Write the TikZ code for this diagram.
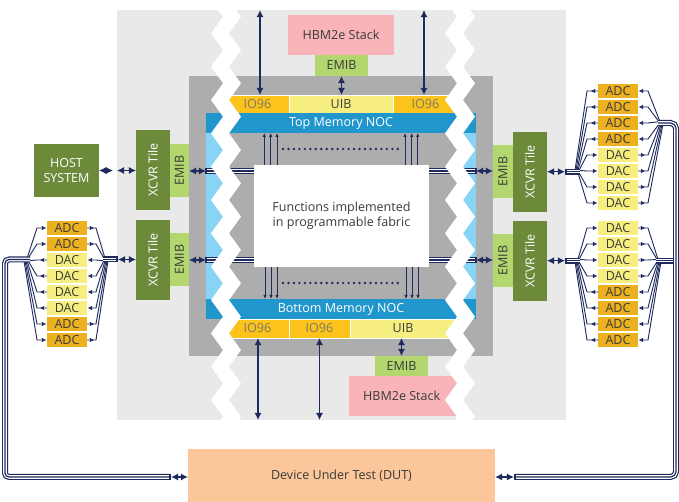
\documentclass[tikz,border=0pt]{standalone}
\usepackage{fontspec}
\setmainfont{Open Sans}
\usetikzlibrary{arrows.meta,calc,decorations.markings}

\definecolor{cBg}{HTML}{E9E9E9}
\definecolor{cChip}{HTML}{ADADAD}
\definecolor{cNoc}{HTML}{2196CD}
\definecolor{cSky}{HTML}{88D4F5}
\definecolor{cIo}{HTML}{FCC41A}
\definecolor{cUib}{HTML}{F6EF80}
\definecolor{cEmib}{HTML}{B3D66F}
\definecolor{cTile}{HTML}{6D8A3B}
\definecolor{cHbm}{HTML}{F8B4B9}
\definecolor{cDut}{HTML}{FBC699}
\definecolor{cAdc}{HTML}{ECB11F}
\definecolor{cDac}{HTML}{F6EF80}
\definecolor{cNavy}{HTML}{1F2B5E}
\definecolor{cInk}{HTML}{3A3A3A}
\definecolor{cIoInk}{HTML}{7E7965}

% white zig-zag break running down the die
\newcommand\zigband[1]{%
  \draw[white, line width=10.95pt, line join=miter, miter limit=10]
    (#1,0) \foreach \k in {0,...,12} { -- ({#1+12},{\k*33.333+16.667}) -- (#1,{(\k+1)*33.333}) };}

\begin{document}
\begin{tikzpicture}[x=0.75pt, y=-0.75pt,
  font=\fontsize{9.4pt}{11pt}\selectfont,
  box/.style={inner sep=0pt, outer sep=0pt, text=cInk},
  wh/.style 2 args={minimum width=#1*0.75pt, minimum height=#2*0.75pt},
  iobox/.style={box, fill=cIo, draw=white, line width=0.4pt, text=cIoInk},
  uibbox/.style={box, fill=cUib, draw=white, line width=0.4pt},
  nocbox/.style={box, fill=cNoc, text=white, wh={270}{20}},
  emibbox/.style={box, fill=cEmib},
  tilebox/.style={box, fill=cTile, text=white},
  ADC/.style={box, fill=cAdc, wh={40}{13.7}},
  DAC/.style={box, fill=cDac, wh={40}{13.7}},
  dbl/.style={draw=cNavy, line width=0.9pt, {Latex[length=5.4pt,width=5.4pt]}-{Latex[length=5.4pt,width=5.4pt]}},
  thinarr/.style={draw=cNavy, line width=0.6pt, -{Latex[length=3pt,width=2.6pt]}},
  fanline/.style={draw=cNavy, color=cNavy, line width=0.7pt},
  fanin/.style={fanline, -{Latex[length=3.4pt,width=3.4pt]}, shorten >=0.4pt},
  fanout/.style={fanline, postaction={decorate}, decoration={markings,
      mark=at position -5.5pt with {\arrowreversed{Latex[length=3.4pt,width=3.4pt]}}}},
  ADC-dut/.style={fanin}, DAC-dut/.style={fanout},
  ADC-xcvr/.style={fanout}, DAC-xcvr/.style={fanin},
  cable/.style={draw=cNavy, line width=4.5pt,
      postaction={draw=white, line width=2.7pt},
      postaction={draw=cNavy, line width=0.9pt}},
  bar/.style={draw=cNavy, line width=0.8pt},
  dotrow/.style={draw=cNavy, line width=2pt, line cap=round, dash pattern=on 0pt off 4.1pt}
]
\useasboundingbox (0,0) rectangle (679,502);

% package outline and die
\fill[cBg] (117,10) rectangle (566,420);
\fill[cChip] (189,76) rectangle (493,356);

% top HBM stack
\node[box, fill=cHbm, wh={106}{40}] (hbmT) at (341,35) {HBM2e Stack};
\node[emibbox, wh={53}{21}] (emibT) at (341.5,65.5) {EMIB};

% top I/O row and NOC
\node[iobox, wh={63}{18}] (io96TL) at (257.5,104) {IO96};
\node[uibbox, wh={104}{18}] (uibT) at (341,104) {UIB};
\node[iobox, wh={65}{18}] (io96TR) at (425.5,104) {IO96};
\node[nocbox] (nocT) at (341,123) {Top Memory NOC};

% side NOC strips
\fill[cSky] (206,133) rectangle (224,299);
\fill[cSky] (460,133) rectangle (476,299);

% bottom NOC and I/O row
\node[nocbox] (nocB) at (341,309) {Bottom Memory NOC};
\node[iobox, wh={63}{19}] (io96BL) at (257.5,328.5) {IO96};
\node[iobox, wh={61}{19}] (io96BR) at (319.5,328.5) {IO96};
\node[uibbox, wh={106}{19}] (uibB) at (403,328.5) {UIB};

% bottom HBM stack
\node[emibbox, wh={53}{21}] (emibB) at (401.5,366.5) {EMIB};
\node[box, fill=cHbm, wh={111}{40}, label={[text=cInk, xshift=-2.1pt]center:HBM2e Stack}] (hbmB) at (404.5,396) {};

% fabric
\node[box, fill=white, wh={175}{102}, align=center, text=cInk] (fab) at (341.5,216)
  {Functions implemented\\in programmable fabric};

% fabric to NOC connections
\foreach \x in {264.3,270.7,277,405,411.7,417.7}
  \draw[thinarr] (fab.north -| \x,0) -- (nocT.south -| \x,0);
\foreach \x in {265,271,277,406,412,418}
  \draw[thinarr] (fab.south -| \x,0) -- (nocB.north -| \x,0);
\coordinate (dT1) at (283,149); \coordinate (dT2) at (400,149);
\coordinate (dB1) at (283,283); \coordinate (dB2) at (400,283);
\draw[dotrow] (dT1) -- (dT2);
\draw[dotrow] (dB1) -- (dB2);

% HBM / external I/O arrows
\coordinate (tA) at (260,10);
\coordinate (tB) at (424,10);
\draw[dbl] (tA) -- (tA |- io96TL.north);
\draw[dbl] (tB) -- (tB |- io96TR.north);
\draw[dbl] (emibT.south) -- (emibT.south |- uibT.north);
\coordinate (bA) at (258,420);
\coordinate (bB) at (319.5,420);
\draw[dbl] (io96BL.south -| bA) -- (bA);
\draw[dbl] (io96BR.south -| bB) -- (bB);
\draw[dbl] (emibB.north |- uibB.south) -- (emibB.north);

% side tiles
\node[tilebox, rotate=90, wh={80}{34}] (xcvrLT) at (153,170) {XCVR Tile};
\node[emibbox, rotate=90, wh={53}{19}] (emibLT) at (179.5,170.5) {EMIB};
\node[tilebox, rotate=90, wh={80}{34}] (xcvrLB) at (153,260) {XCVR Tile};
\node[emibbox, rotate=90, wh={53}{19}] (emibLB) at (179.5,259.5) {EMIB};
\node[emibbox, rotate=90, wh={53}{20}] (emibRT) at (503,171.5) {EMIB};
\node[tilebox, rotate=90, wh={80}{34}] (xcvrRT) at (530,172) {XCVR Tile};
\node[emibbox, rotate=90, wh={53}{20}] (emibRB) at (503,260.5) {EMIB};
\node[tilebox, rotate=90, wh={80}{34}] (xcvrRB) at (530,261) {XCVR Tile};

% die-side buses
\coordinate (lt) at (206,171);
\coordinate (lb) at (206,260);
\coordinate (rt) at (476,171);
\coordinate (rb) at (476,260);
\draw[cable] (lt) -- (lt -| fab.west);
\draw[cable] (lb) -- (lb -| fab.west);
\draw[cable] (rt) -- (rt -| fab.east);
\draw[cable] (rb) -- (rb -| fab.east);
\foreach \c in {lt,lb,rt,rb}
  \draw[bar] ($(\c)+(0,-3)$) -- ($(\c)+(0,3)$);
\draw[dbl] (emibLT.south |- lt) -- (lt);
\draw[dbl] (emibLB.south |- lb) -- (lb);
\draw[dbl] (rt) -- (emibRT.north |- rt);
\draw[dbl] (rb) -- (emibRB.north |- rb);

% zig-zag breaks
\begin{scope}
  \clip (0,10) rectangle (679,420);
  \zigband{220}
  \zigband{454}
\end{scope}

% host system
\node[tilebox, wh={65}{53}, align=center] (host) at (66.5,170.5) {HOST\\SYSTEM};
\coordinate (hg1) at (113,170.5);
\coordinate (hg2) at (117,170.5);
\draw[dbl] (host.east) -- (hg1);
\draw[dbl] (hg2) -- (xcvrLT.north |- hg2);

% device under test
\node[box, fill=cDut, wh={307}{53}] (dut) at (341.5,475.5) {Device Under Test (DUT)};

% converter banks
\foreach \i/\ty in {1/ADC,2/ADC,3/DAC,4/DAC,5/DAC,6/DAC,7/ADC,8/ADC}
  \node[\ty] (L\i) at (67,{212+16*\i}) {\ty};
\foreach \i/\ty in {1/ADC,2/ADC,3/ADC,4/ADC,5/DAC,6/DAC,7/DAC,8/DAC}
  \node[\ty] (A\i) at (618,{75+16*\i}) {\ty};
\foreach \i/\ty in {1/DAC,2/DAC,3/DAC,4/DAC,5/ADC,6/ADC,7/ADC,8/ADC}
  \node[\ty] (B\i) at (618,{212+16*\i}) {\ty};

% fan-out wiring, left bank
\foreach \i/\ty in {1/ADC,2/ADC,3/DAC,4/DAC,5/DAC,6/DAC,7/ADC,8/ADC} {
  \pgfmathsetmacro\yy{212+16*\i}
  \pgfmathsetmacro\kk{abs(\yy-259.5)/16}
  \pgfmathsetmacro\sy{\yy>259.5 ? 260.7 : 258.3}
  \draw[\ty-dut] ({29-\kk},\sy) -- (37,\yy) -- (L\i.west);
  \draw[\ty-xcvr] ({103+\kk},\sy) -- (96,\yy) -- (L\i.east);
}
% fan-out wiring, upper right bank
\foreach \i/\ty in {1/ADC,2/ADC,3/ADC,4/ADC,5/DAC,6/DAC,7/DAC,8/DAC} {
  \pgfmathsetmacro\yy{75+16*\i}
  \pgfmathsetmacro\kk{abs(\yy-171.7)/16}
  \pgfmathsetmacro\sy{\yy>171.7 ? 172.9 : 170.5}
  \pgfmathsetmacro\kr{abs(\yy-123)/16}
  \pgfmathsetmacro\sr{\yy>123 ? 124.2 : 121.8}
  \draw[\ty-xcvr] ({580-\kk},\sy) -- (587,\yy) -- (A\i.west);
  \draw[\ty-dut] ({658+\kr},\sr) -- (648,\yy) -- (A\i.east);
}
% fan-out wiring, lower right bank
\foreach \i/\ty in {1/DAC,2/DAC,3/DAC,4/DAC,5/ADC,6/ADC,7/ADC,8/ADC} {
  \pgfmathsetmacro\yy{212+16*\i}
  \pgfmathsetmacro\kk{abs(\yy-260.7)/16}
  \pgfmathsetmacro\sy{\yy>260.7 ? 261.9 : 259.5}
  \draw[\ty-xcvr] ({580-\kk},\sy) -- (587,\yy) -- (B\i.west);
  \draw[\ty-dut] ({656+\kk},\sy) -- (648,\yy) -- (B\i.east);
}

% tile-side buses
\coordinate (lx1) at (103,259.5);
\coordinate (lx2) at (117,259.5);
\draw[cable] (lx1) -- (lx2);
\draw[bar] ($(lx2)+(0,-3)$) -- ($(lx2)+(0,3)$);
\draw[dbl] ($(lx2)+(1,0)$) -- (xcvrLB.north |- lx2);
\coordinate (rx1) at (566,171.7);
\coordinate (rx2) at (580,171.7);
\draw[dbl] (xcvrRT.south |- rx1) -- ($(rx1)+(-1,0)$);
\draw[cable] (rx1) -- (rx2);
\draw[bar] ($(rx1)+(0,-3)$) -- ($(rx1)+(0,3)$);
\coordinate (ry1) at (566,260.7);
\coordinate (ry2) at (580,260.7);
\draw[dbl] (xcvrRB.south |- ry1) -- ($(ry1)+(-1,0)$);
\draw[cable] (ry1) -- (ry2);
\draw[bar] ($(ry1)+(0,-3)$) -- ($(ry1)+(0,3)$);

% DUT-side buses
\coordinate (la) at (30,259.5);
\coordinate (lc) at (5,259.5);
\coordinate (ld) at (5,477);
\coordinate (le) at (170,477);
\draw[cable, rounded corners=3pt] (la) -- (lc) -- (ld) -- (le);
\draw[bar] ($(le)+(0,-3)$) -- ($(le)+(0,3)$);
\draw[dbl] ($(le)+(1,0)$) -- (dut.west |- le);
\coordinate (rm) at (656,260.7);
\coordinate (rn) at (676,260.7);
\draw[cable] (rm) -- (rn);
\coordinate (ra) at (658,123);
\coordinate (rc) at (676,123);
\coordinate (rd) at (676,477);
\coordinate (re) at (515,477);
\draw[cable, rounded corners=4pt] (ra) -- (rc) -- (rd) -- (re);
\draw[bar] ($(re)+(0,-3)$) -- ($(re)+(0,3)$);
\draw[dbl] (dut.east |- re) -- ($(re)+(-1,0)$);
\end{tikzpicture}
\end{document}
